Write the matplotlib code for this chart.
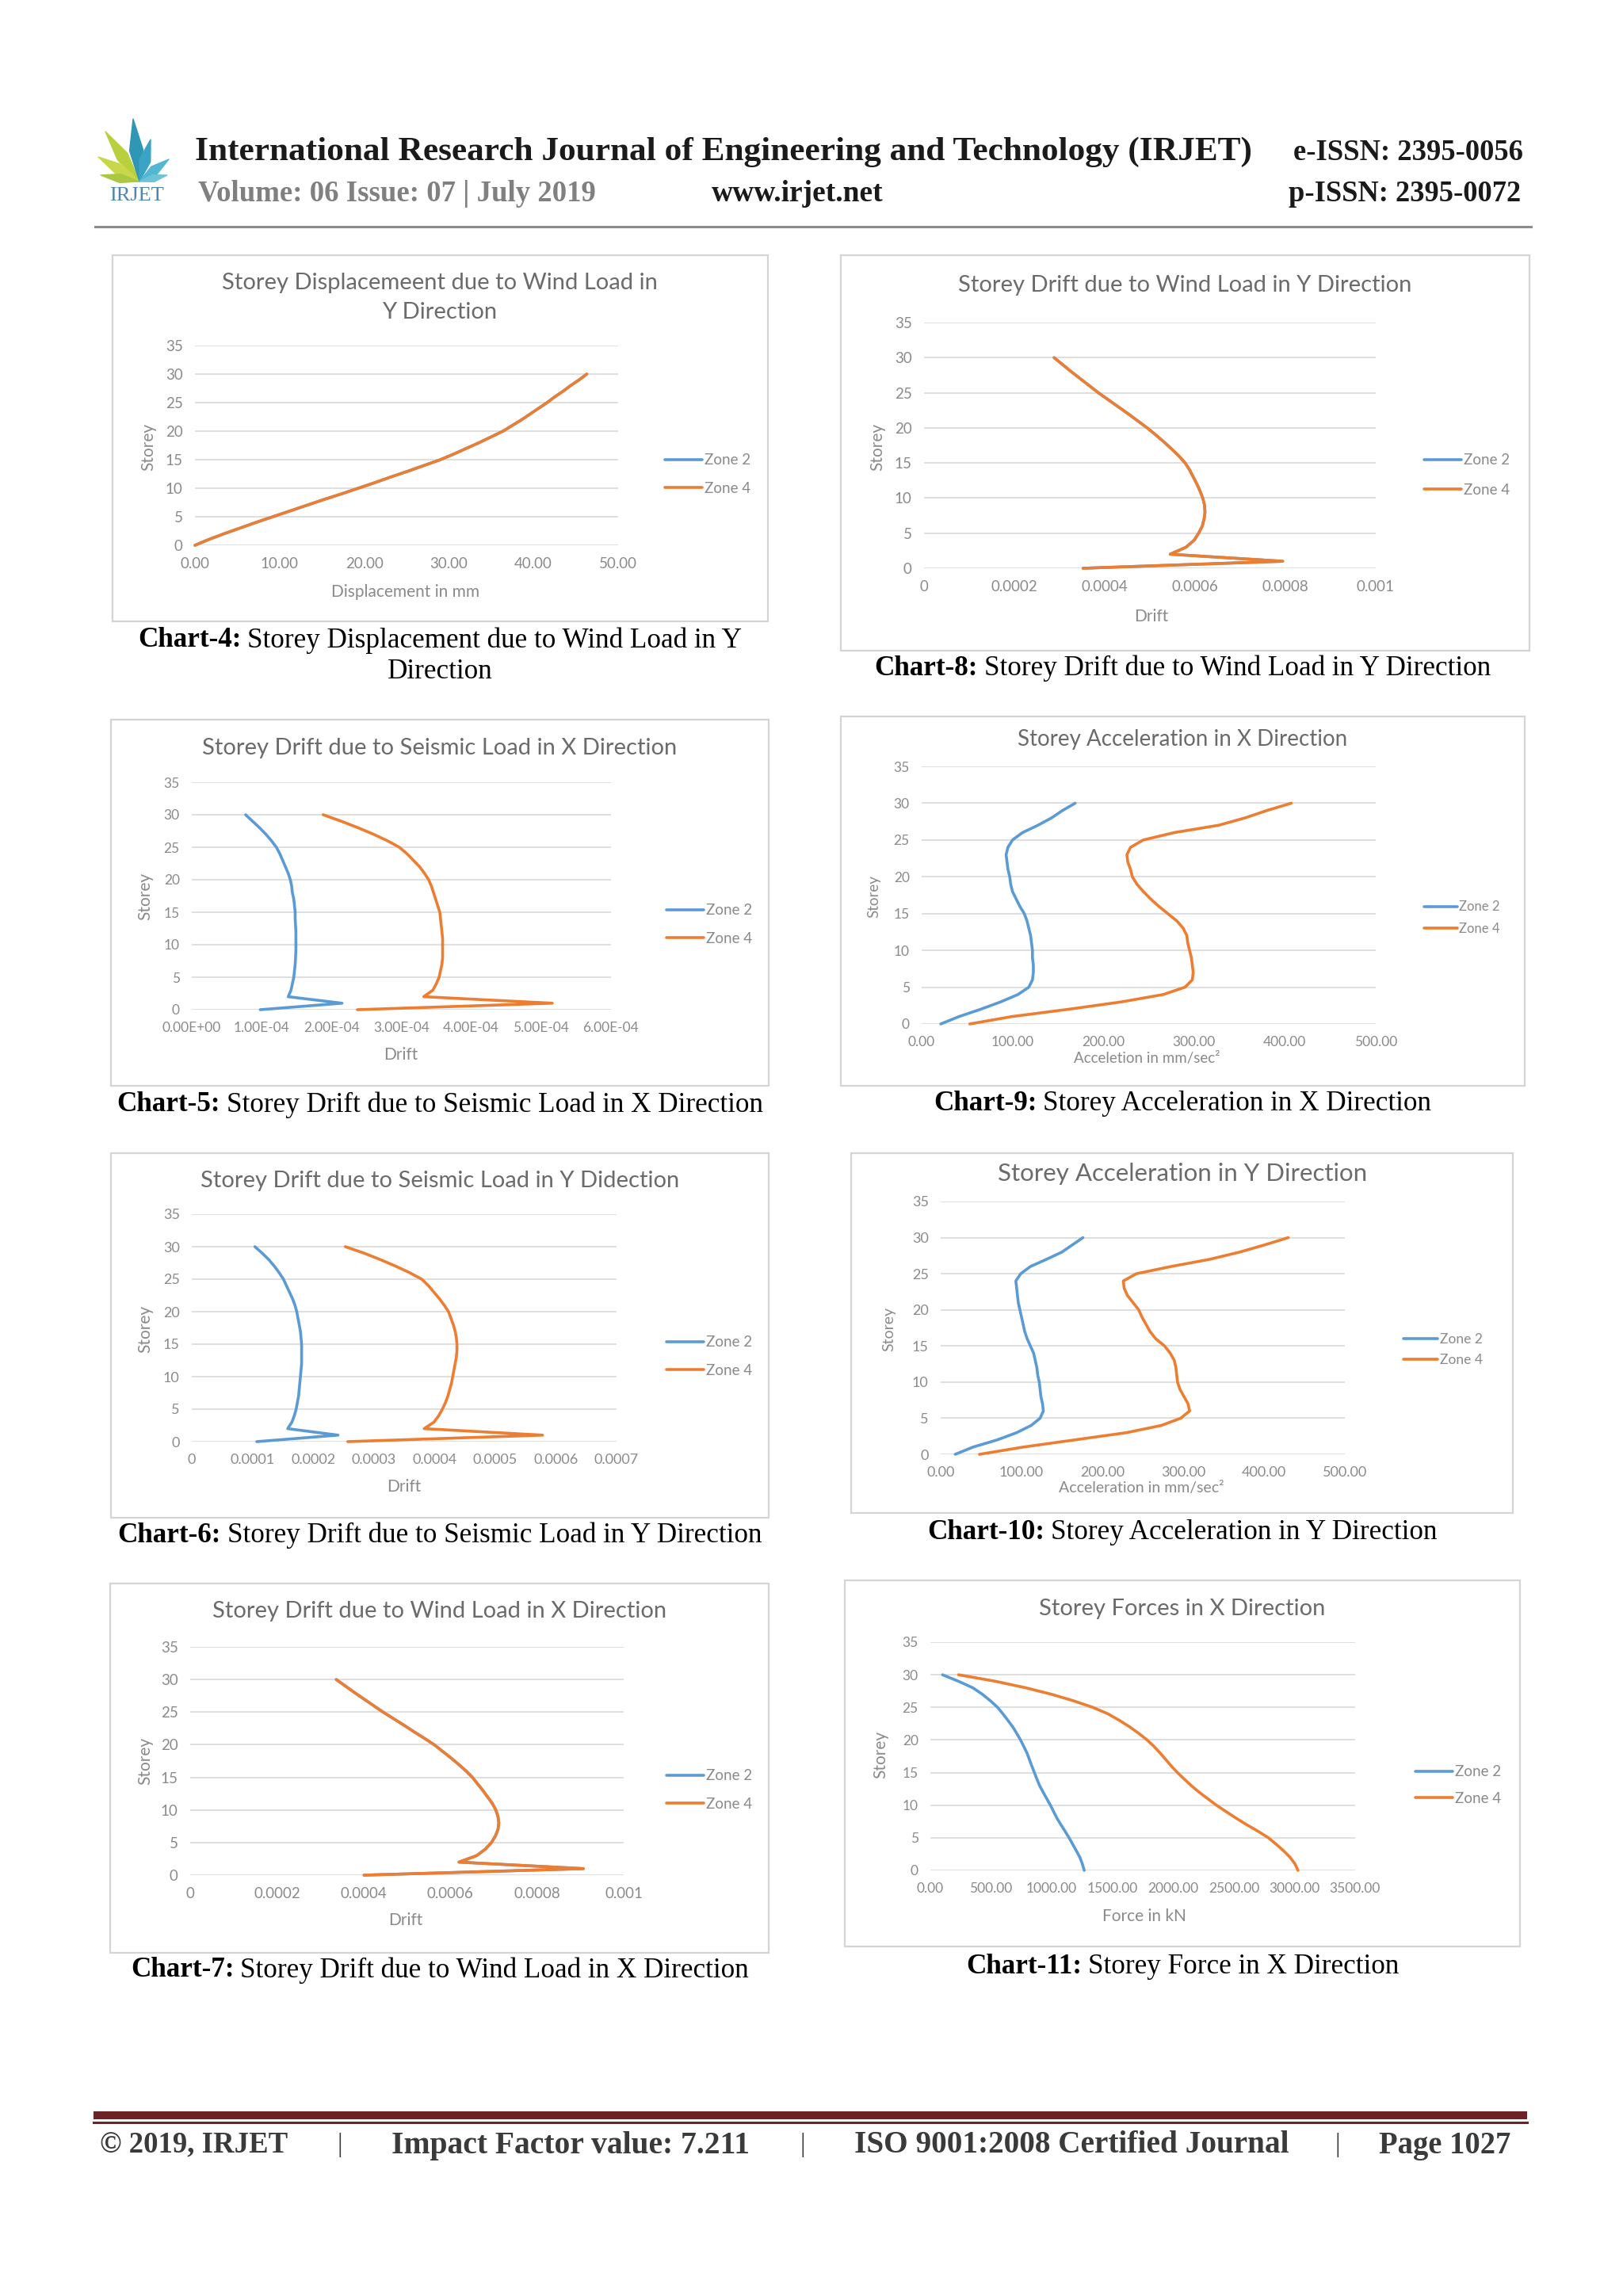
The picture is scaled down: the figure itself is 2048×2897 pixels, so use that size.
import matplotlib
matplotlib.use('Agg')
import matplotlib.pyplot as plt
from matplotlib.patches import Rectangle, Polygon
from matplotlib.lines import Line2D
import math

# ---------------------------------------------------------------- data
storeys = list(range(31))
ytick_vals = [0, 5, 10, 15, 20, 25, 30, 35]
legend_labels = ['Zone 2', 'Zone 4']

# Chart-4 : displacement (mm), wind Y  (both zones coincide)
disp_wy_z4 = [0, 1.6, 3.4, 5.3, 7.2, 9.2, 11.2, 13.2, 15.2, 17.3, 19.3, 21.3, 23.2, 25.2, 27.1,
              29.0, 30.6, 32.1, 33.6, 35.0, 36.4, 37.5, 38.6, 39.6, 40.6, 41.6, 42.5, 43.5,
              44.4, 45.4, 46.3]
disp_wy_z2 = list(disp_wy_z4)
disp_xticks = [0, 10, 20, 30, 40, 50]
disp_xticklabels = ['0.00', '10.00', '20.00', '30.00', '40.00', '50.00']

# Chart-8 : drift, wind Y (both zones coincide)
drift_wy_z4 = [0.000352, 0.000794, 0.000545, 0.000580, 0.000598, 0.000608, 0.000616, 0.000620,
               0.000622, 0.000621, 0.000617, 0.000611, 0.000604, 0.000596, 0.000588, 0.000578,
               0.000564, 0.000548, 0.000531, 0.000513, 0.000494, 0.000473, 0.000452, 0.000430,
               0.000408, 0.000386, 0.000366, 0.000346, 0.000326, 0.000307, 0.000288]
drift_wy_z2 = list(drift_wy_z4)
wind_xticks = [0, 0.0002, 0.0004, 0.0006, 0.0008, 0.001]
wind_xticklabels = ['0', '0.0002', '0.0004', '0.0006', '0.0008', '0.001']

# Chart-5 : drift, seismic X
drift_sx_z2 = [0.98e-4, 2.15e-4, 1.38e-4, 1.42e-4, 1.44e-4, 1.46e-4, 1.47e-4, 1.48e-4, 1.485e-4,
               1.49e-4, 1.49e-4, 1.49e-4, 1.49e-4, 1.485e-4, 1.48e-4, 1.48e-4, 1.47e-4, 1.46e-4,
               1.44e-4, 1.43e-4, 1.41e-4, 1.38e-4, 1.34e-4, 1.30e-4, 1.26e-4, 1.21e-4, 1.14e-4,
               1.06e-4, 0.97e-4, 0.87e-4, 0.77e-4]
drift_sx_z4 = [2.37e-4, 5.16e-4, 3.32e-4, 3.45e-4, 3.50e-4, 3.54e-4, 3.56e-4, 3.58e-4, 3.59e-4,
               3.59e-4, 3.59e-4, 3.59e-4, 3.58e-4, 3.57e-4, 3.56e-4, 3.55e-4, 3.52e-4, 3.49e-4,
               3.46e-4, 3.43e-4, 3.39e-4, 3.33e-4, 3.26e-4, 3.17e-4, 3.08e-4, 2.97e-4, 2.80e-4,
               2.60e-4, 2.38e-4, 2.14e-4, 1.88e-4]
sx_xticks = [0, 1e-4, 2e-4, 3e-4, 4e-4, 5e-4, 6e-4]
sx_xticklabels = ['0.00E+00', '1.00E-04', '2.00E-04', '3.00E-04', '4.00E-04', '5.00E-04', '6.00E-04']

# Chart-6 : drift, seismic Y
drift_sy_z2 = [1.07e-4, 2.41e-4, 1.58e-4, 1.65e-4, 1.69e-4, 1.72e-4, 1.74e-4, 1.76e-4, 1.77e-4,
               1.78e-4, 1.79e-4, 1.80e-4, 1.81e-4, 1.81e-4, 1.81e-4, 1.81e-4, 1.80e-4, 1.79e-4,
               1.77e-4, 1.75e-4, 1.73e-4, 1.70e-4, 1.66e-4, 1.61e-4, 1.56e-4, 1.51e-4, 1.44e-4,
               1.36e-4, 1.27e-4, 1.16e-4, 1.04e-4]
drift_sy_z4 = [2.57e-4, 5.78e-4, 3.83e-4, 3.99e-4, 4.07e-4, 4.13e-4, 4.18e-4, 4.22e-4, 4.25e-4,
               4.28e-4, 4.30e-4, 4.32e-4, 4.34e-4, 4.36e-4, 4.37e-4, 4.37e-4, 4.36e-4, 4.34e-4,
               4.31e-4, 4.27e-4, 4.23e-4, 4.16e-4, 4.08e-4, 3.99e-4, 3.90e-4, 3.79e-4, 3.59e-4,
               3.36e-4, 3.11e-4, 2.84e-4, 2.53e-4]
sy_xticks = [0, 1e-4, 2e-4, 3e-4, 4e-4, 5e-4, 6e-4, 7e-4]
sy_xticklabels = ['0', '0.0001', '0.0002', '0.0003', '0.0004', '0.0005', '0.0006', '0.0007']

# Chart-7 : drift, wind X (both zones coincide)
drift_wx_z4 = [0.000401, 0.000907, 0.000620, 0.000661, 0.000681, 0.000695, 0.000704, 0.000710,
               0.000712, 0.000710, 0.000705, 0.000697, 0.000686, 0.000675, 0.000663, 0.000651,
               0.000636, 0.000619, 0.000601, 0.000582, 0.000563, 0.000540, 0.000516, 0.000493,
               0.000469, 0.000445, 0.000423, 0.000401, 0.000379, 0.000358, 0.000337]
drift_wx_z2 = list(drift_wx_z4)

# Chart-9 : acceleration X (mm/sec^2)
acc_x_z2 = [21, 41, 65, 87, 106, 118, 122, 123, 123, 122, 122, 121, 120, 118, 116, 113, 108, 104,
            100, 98, 97, 95, 94, 93, 95, 100, 111, 128, 143, 155, 169]
acc_x_z4 = [53, 99, 162, 220, 266, 290, 298, 299, 298, 297, 295, 293, 292, 288, 281, 271, 261, 252,
            244, 237, 232, 230, 227, 226, 230, 244, 278, 327, 356, 380, 407]
acc_xticks = [0, 100, 200, 300, 400, 500]
acc_xticklabels = ['0.00', '100.00', '200.00', '300.00', '400.00', '500.00']

# Chart-10 : acceleration Y (mm/sec^2)
acc_y_z2 = [18, 40, 70, 94, 112, 123, 127, 126, 124, 123, 122, 120, 119, 117, 115, 111, 107, 104,
            102, 100, 98, 96, 95, 94, 93, 99, 111, 131, 150, 163, 176]
acc_y_z4 = [48, 102, 166, 230, 273, 297, 308, 306, 301, 296, 293, 292, 291, 289, 284, 277, 266, 259,
            254, 249, 245, 238, 231, 227, 226, 242, 285, 333, 370, 401, 430]

# Chart-11 : storey forces X (kN)
force_x_z2 = [1268, 1252, 1232, 1203, 1173, 1143, 1110, 1076, 1043, 1016, 989, 959, 929, 900, 878,
              857, 836, 816, 796, 770, 743, 712, 679, 639, 598, 554, 495, 429, 350, 232, 100]
force_x_z4 = [3029, 3004, 2964, 2911, 2850, 2786, 2700, 2607, 2520, 2438, 2357, 2285, 2214, 2150,
              2092, 2036, 1985, 1940, 1893, 1843, 1786, 1718, 1643, 1558, 1464, 1339, 1180, 1000,
              786, 536, 232]
force_xticks = [0, 500, 1000, 1500, 2000, 2500, 3000, 3500]
force_xticklabels = ['0.00', '500.00', '1000.00', '1500.00', '2000.00', '2500.00', '3000.00', '3500.00']

# ---------------------------------------------------------------- style
W, H = 2048, 2897
BLUE = '#5b9bd5'
ORANGE = '#ed7d31'
GRID = '#dcdcdc'
TICK = '#8a8a8a'
TITLE = '#6b6b6b'
SANS = ['Lato', 'DejaVu Sans']
SERIF = ['Liberation Serif', 'DejaVu Serif']

fig = plt.figure(figsize=(W / 100, H / 100), dpi=100)
fig.patch.set_facecolor('white')
renderer = fig.canvas.get_renderer()


def fx(x):
    return x / W


def fy(y):
    return 1 - y / H


def text_width(t):
    return t.get_window_extent(renderer).width


def caption(lines, cx, ys, size=25.3):
    for (bold, reg), y in zip(lines, ys):
        tb = fig.text(0, fy(y), bold, fontsize=size, fontweight='bold', family=SERIF,
                      color='black', ha='left', va='center') if bold else None
        tr = fig.text(0, fy(y), reg, fontsize=size, family=SERIF, color='black',
                      ha='left', va='center')
        wb = text_width(tb) if tb else 0
        gap = 8 if tb else 0
        wr = text_width(tr)
        start = cx - (wb + gap + wr) / 2
        if tb:
            tb.set_x(fx(start))
        tr.set_x(fx(start + wb + gap))


def draw_chart(frame, box, xlim, xticks, xticklabels, series, title_lines, title_ys, title_x,
               xlabel, xlabel_pos, ylabel_pos, legend_left, legend_rows, cap_lines, cap_x, cap_ys,
               tick_size=13.5, title_size=21, label_size=15, legend_size=13.5):
    x0, y0, x1, y1 = frame
    fig.add_artist(Rectangle((fx(x0), fy(y1)), (x1 - x0) / W, (y1 - y0) / H,
                             transform=fig.transFigure, fill=False, edgecolor='#d4d4d4', lw=1.6))
    left, right, bottom, top = box
    ax = fig.add_axes([fx(left), fy(bottom), (right - left) / W, (bottom - top) / H])
    ax.set_xlim(*xlim)
    ax.set_ylim(0, 35)
    ax.set_facecolor('none')
    for s in ax.spines.values():
        s.set_visible(False)
    ax.set_yticks(ytick_vals)
    ax.set_yticklabels([str(v) for v in ytick_vals])
    ax.set_xticks(xticks)
    ax.set_xticklabels(xticklabels)
    ax.tick_params(length=0, labelsize=tick_size, labelcolor=TICK, pad=11)
    for lab in ax.get_xticklabels() + ax.get_yticklabels():
        lab.set_family(SANS)
    ax.yaxis.grid(True, color=GRID, lw=1.3)
    ax.set_axisbelow(True)
    handles = []
    for vals, col in series:
        ln, = ax.plot(vals, storeys, color=col, lw=2.6, solid_capstyle='round', clip_on=False)
        handles.append(ln)
    for t, y in zip(title_lines, title_ys):
        fig.text(fx(title_x), fy(y), t, fontsize=title_size, family=SANS, color=TITLE,
                 ha='center', va='center')
    fig.text(fx(xlabel_pos[0]), fy(xlabel_pos[1]), xlabel, fontsize=label_size, family=SANS,
             color=TICK, ha='center', va='center')
    fig.text(fx(ylabel_pos[0]), fy(ylabel_pos[1]), 'Storey', fontsize=label_size, family=SANS,
             color=TICK, ha='center', va='center', rotation=90)
    mid = (legend_rows[0] + legend_rows[1]) / 2
    gap_px = legend_rows[1] - legend_rows[0]
    fpx = legend_size * 100 / 72
    leg = ax.legend(handles, legend_labels, loc='center left',
                    bbox_to_anchor=(fx(legend_left), fy(mid)), bbox_transform=fig.transFigure,
                    frameon=False, fontsize=legend_size, handlelength=2.5, handletextpad=0.15,
                    labelspacing=max(0.1, (gap_px - fpx) / fpx), borderpad=0, borderaxespad=0)
    for t in leg.get_texts():
        t.set_color(TICK)
        t.set_family(SANS)
    caption(cap_lines, cap_x, cap_ys)
    return ax


# ---------------------------------------------------------------- header
logo = fig.add_axes([fx(110), fy(280), 130 / W, 140 / H])
logo.set_xlim(110, 240)
logo.set_ylim(280, 140)
logo.axis('off')
base = (176, 229)
leaves = [((133, 166), 15, '#b9cf3d'), ((124, 198), 14, '#c8d84a'), ((127, 221), 11, '#aac842'),
          ((168, 150), 17, '#2f97b3'), ((190, 176), 14, '#3ba3c6'), ((213, 201), 12, '#52b7d2'),
          ((211, 221), 9, '#6cc3d6')]
for tip, wdt, col in leaves:
    dx, dy = tip[0] - base[0], tip[1] - base[1]
    L = math.hypot(dx, dy)
    nx, ny = -dy / L, dx / L
    mx, my = base[0] + dx * 0.5, base[1] + dy * 0.5
    pts = [base, (mx + nx * wdt / 2, my + ny * wdt / 2), tip, (mx - nx * wdt / 2, my - ny * wdt / 2)]
    logo.add_patch(Polygon(pts, closed=True, facecolor=col, edgecolor=col, lw=1, joinstyle='round'))
fig.text(fx(173), fy(247), 'IRJET', fontsize=19, family=SERIF, color='#4d86ae', ha='center',
         va='center')

fig.text(fx(246), fy(192), 'International Research Journal of Engineering and Technology (IRJET)',
         fontsize=31.2, fontweight='bold', family=SERIF, color='#1a1a1a', ha='left', va='center')
fig.text(fx(1922), fy(193), 'e-ISSN: 2395-0056', fontsize=26.4, fontweight='bold', family=SERIF,
         color='#1a1a1a', ha='right', va='center')
fig.text(fx(250), fy(245), 'Volume: 06 Issue: 07 | July 2019', fontsize=26.5, fontweight='bold',
         family=SERIF, color='#808080', ha='left', va='center')
fig.text(fx(898), fy(245), 'www.irjet.net', fontsize=27, fontweight='bold', family=SERIF,
         color='#1a1a1a', ha='left', va='center')
fig.text(fx(1919), fy(245), 'p-ISSN: 2395-0072', fontsize=26.3, fontweight='bold', family=SERIF,
         color='#1a1a1a', ha='right', va='center')
fig.add_artist(Line2D([fx(120), fx(1932)], [fy(286), fy(286)], transform=fig.transFigure,
                      color='#8c8c8c', lw=2.2))

# ---------------------------------------------------------------- charts
draw_chart((142, 322, 969, 784), (246, 780, 688, 436), (0, 50), disp_xticks, disp_xticklabels,
           [(disp_wy_z2, BLUE), (disp_wy_z4, ORANGE)],
           ['Storey Displacemeent due to Wind Load in', 'Y Direction'], [357, 394], 555,
           'Displacement in mm', (512, 747), (187, 564), 839, (580, 617),
           [('Chart-4:', 'Storey Displacement due to Wind Load in Y'), ('', 'Direction')], 555,
           [808, 848])

draw_chart((1061, 322, 1930, 821), (1166, 1736, 717, 407), (0, 0.001), wind_xticks, wind_xticklabels,
           [(drift_wy_z2, BLUE), (drift_wy_z4, ORANGE)],
           ['Storey Drift due to Wind Load in Y Direction'], [360], 1495,
           'Drift', (1453, 778), (1107, 564), 1797, (580, 619),
           [('Chart-8:', 'Storey Drift due to Wind Load in Y Direction')], 1492, [843])

draw_chart((140, 908, 970, 1370), (242, 771, 1274, 987), (0, 6e-4), sx_xticks, sx_xticklabels,
           [(drift_sx_z2, BLUE), (drift_sx_z4, ORANGE)],
           ['Storey Drift due to Seismic Load in X Direction'], [944], 555,
           'Drift', (506, 1331), (183, 1131), 841, (1148, 1185),
           [('Chart-5:', 'Storey Drift due to Seismic Load in X Direction')], 555, [1394],
           tick_size=12.5)

draw_chart((1061, 904, 1924, 1370), (1163, 1736, 1292, 967), (0, 500), acc_xticks, acc_xticklabels,
           [(acc_x_z2, BLUE), (acc_x_z4, ORANGE)],
           ['Storey Acceleration in X Direction'], [933], 1492,
           'Acceletion in mm/sec²', (1447, 1335), (1103, 1131), 1797, (1144, 1172),
           [('Chart-9:', 'Storey Acceleration in X Direction')], 1492, [1392],
           tick_size=12.5, title_size=20, label_size=13.5, legend_size=12)

draw_chart((140, 1455, 970, 1915), (242, 778, 1819, 1532), (0, 7e-4), sy_xticks, sy_xticklabels,
           [(drift_sy_z2, BLUE), (drift_sy_z4, ORANGE)],
           ['Storey Drift due to Seismic Load in Y Didection'], [1490], 555,
           'Drift', (510, 1876), (183, 1677), 841, (1693, 1730),
           [('Chart-6:', 'Storey Drift due to Seismic Load in Y Direction')], 555, [1937],
           tick_size=13)

draw_chart((1074, 1455, 1909, 1909), (1187, 1697, 1835, 1516), (0, 500), acc_xticks, acc_xticklabels,
           [(acc_y_z2, BLUE), (acc_y_z4, ORANGE)],
           ['Storey Acceleration in Y Direction'], [1481], 1492,
           'Acceleration in mm/sec²', (1440, 1878), (1122, 1677), 1771, (1689, 1717),
           [('Chart-10:', 'Storey Acceleration in Y Direction')], 1492, [1933],
           tick_size=13, title_size=22.5, label_size=14, legend_size=12.5)

draw_chart((139, 1998, 970, 2464), (240, 787, 2366, 2078), (0, 0.001), wind_xticks, wind_xticklabels,
           [(drift_wx_z2, BLUE), (drift_wx_z4, ORANGE)],
           ['Storey Drift due to Wind Load in X Direction'], [2033], 555,
           'Drift', (512, 2423), (183, 2222), 841, (2240, 2277),
           [('Chart-7:', 'Storey Drift due to Wind Load in X Direction')], 555, [2486])

draw_chart((1066, 1994, 1918, 2456), (1174, 1710, 2360, 2072), (0, 3500), force_xticks,
           force_xticklabels, [(force_x_z2, BLUE), (force_x_z4, ORANGE)],
           ['Storey Forces in X Direction'], [2030], 1492,
           'Force in kN', (1444, 2418), (1111, 2214), 1786, (2235, 2270),
           [('Chart-11:', 'Storey Force in X Direction')], 1492, [2481], tick_size=12.5)

# ---------------------------------------------------------------- footer
fig.add_artist(Rectangle((fx(118), fy(2674)), (1927 - 118) / W, 10 / H, transform=fig.transFigure,
                         facecolor='#6a2426', edgecolor='none'))
fig.add_artist(Line2D([fx(118), fx(1927)], [fy(2678), fy(2678)], transform=fig.transFigure,
                      color='#6a2426', lw=2.2))
foot = [('© 2019, IRJET', 126, 'left', 26.5), ('|', 429, 'center', 24),
        ('Impact Factor value: 7.211', 494, 'left', 28.5), ('|', 1013, 'center', 24),
        ('ISO 9001:2008 Certified Journal', 1078, 'left', 28.3), ('|', 1688, 'center', 24),
        ('Page 1027', 1906, 'right', 27.8)]
for txt, x, ha, size in foot:
    fig.text(fx(x), fy(2707), txt, fontsize=size,
             fontweight='bold' if txt != '|' else 'normal', family=SERIF, color='#3a3a3a',
             ha=ha, va='center')

fig.savefig('out.png', dpi=100, facecolor='white')
